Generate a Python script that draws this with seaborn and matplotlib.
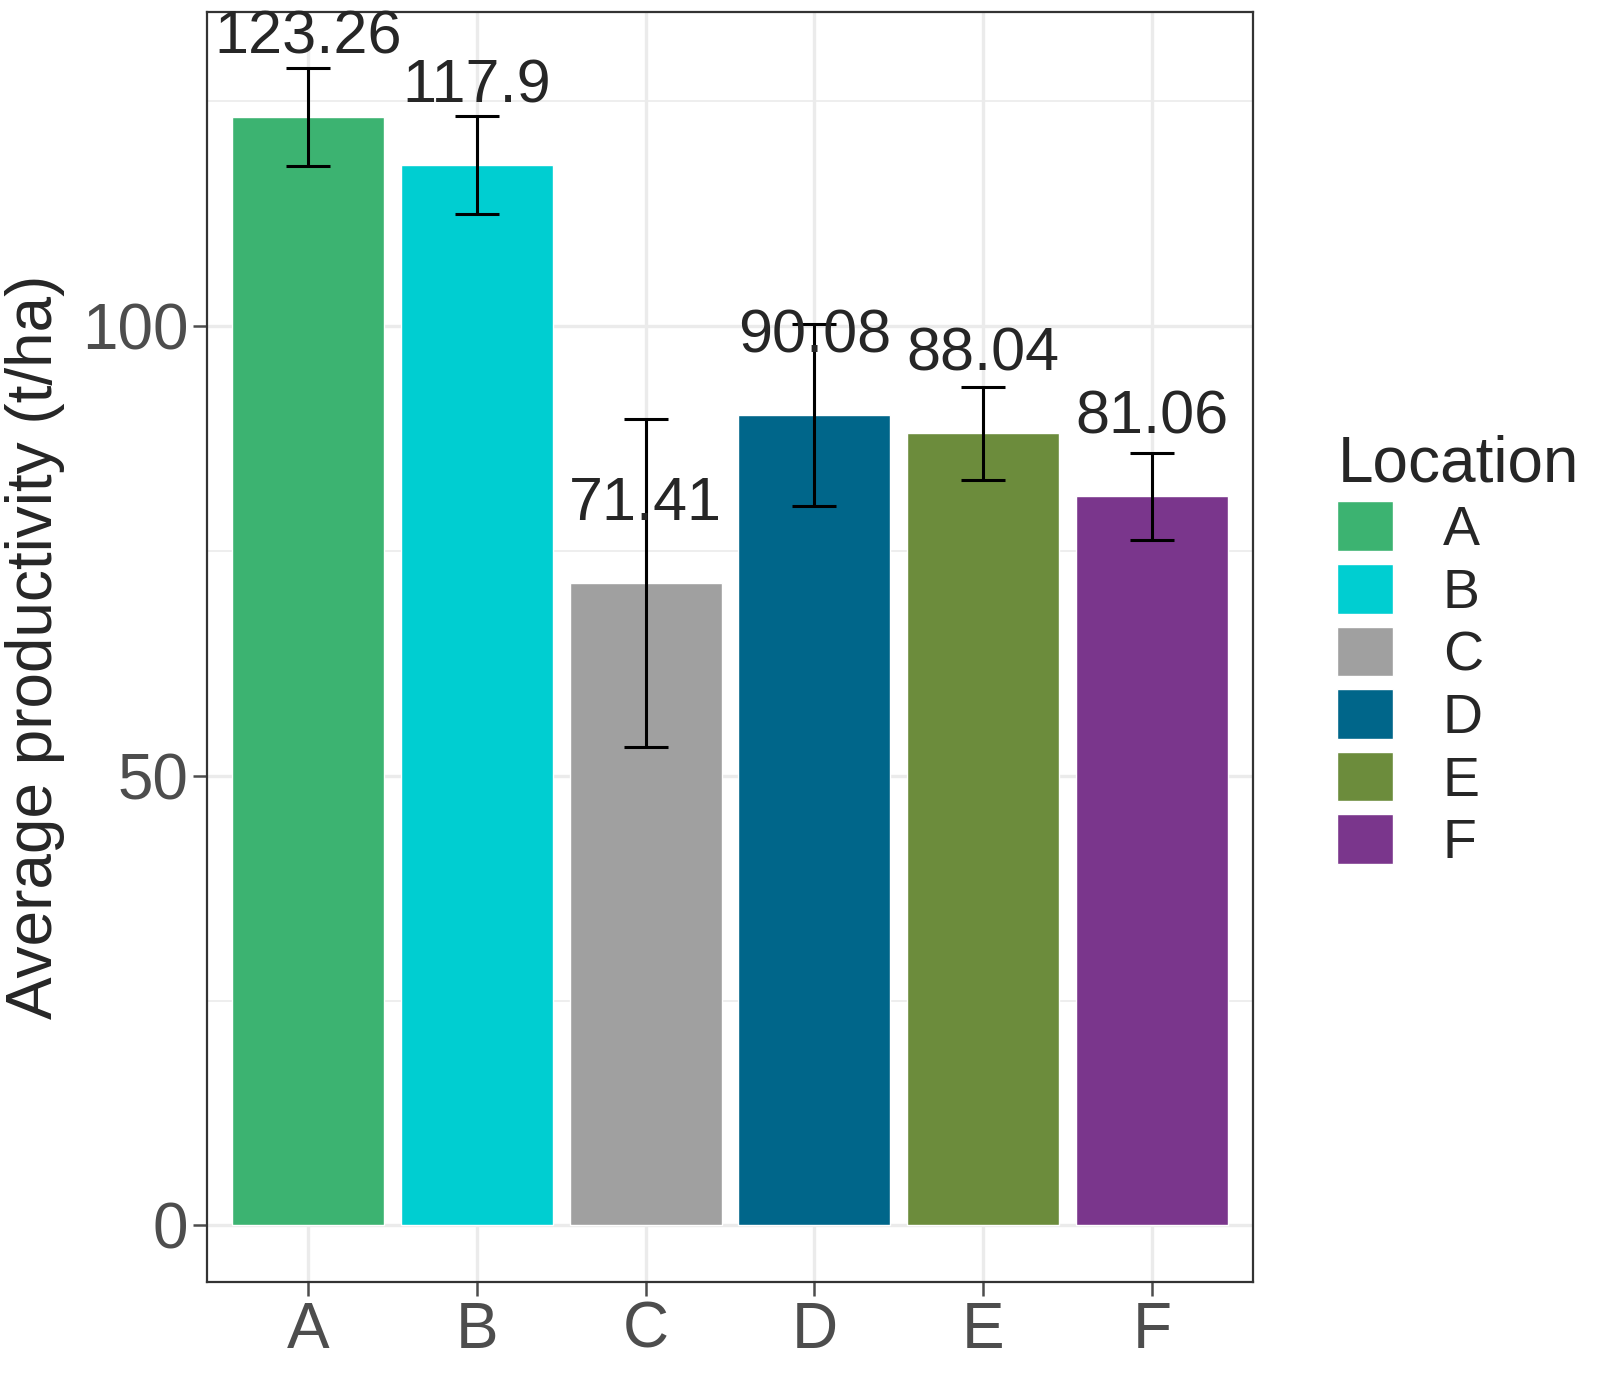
import numpy as np
import pandas as pd
import seaborn as sns
import matplotlib.pyplot as plt
from matplotlib.patches import Patch

locations = ['A', 'B', 'C', 'D', 'E', 'F']
means = [123.26, 117.9, 71.41, 90.08, 88.04, 81.06]
errors = [5.45, 5.45, 18.2, 10.1, 5.2, 4.85]
colors = ['#3CB371', '#00CED1', '#A0A0A0', '#00668A', '#6C8C3C', '#7A368C']

sns.set_style('white')
plt.rcParams['font.family'] = ['Liberation Sans', 'DejaVu Sans']

df = pd.DataFrame({'Location': locations, 'mean': means, 'err': errors})

fig = plt.figure(figsize=(16.07, 13.89), dpi=100)
ax = fig.add_axes([0.1288, 0.077, 0.6509, 0.9144])

ax.set_axisbelow(True)
ax.set_yticks([25, 75, 125], minor=True)
ax.grid(which='major', color='#EBEBEB', linewidth=2.4)
ax.grid(which='minor', axis='y', color='#EBEBEB', linewidth=1.2)

sns.barplot(data=df, x='Location', y='mean', hue='Location', palette=colors,
            width=0.9, legend=False, ax=ax, saturation=1)
ax.grid(which='major', color='#EBEBEB', linewidth=2.4)
x = np.arange(len(locations))
ax.errorbar(x, means, yerr=errors, fmt='none', ecolor='black', elinewidth=2.2,
            capsize=16, capthick=2.2)
for xi, m in zip(x, means):
    ax.text(xi, m + 8.7, f'{m:g}', ha='center', va='center', fontsize=44)

ax.set_xlim(-0.6, 5.6)
ax.set_ylim(-6.3, 134.9)
ax.set_yticks([0, 50, 100])
ax.set_xlabel('')
ax.set_ylabel('Average productivity (t/ha)', fontsize=46, labelpad=12)
ax.tick_params(axis='both', labelsize=46, colors='#4D4D4D', length=10, width=1.8,
               direction='out', bottom=True, left=True)
for lab in ax.get_xticklabels() + ax.get_yticklabels():
    lab.set_color('#4D4D4D')
for s in ax.spines.values():
    s.set_color('#333333')
    s.set_linewidth(1.6)

handles = [Patch(facecolor=c, edgecolor='white', label=l) for l, c in zip(locations, colors)]
leg = fig.legend(handles=handles, title='Location', loc='upper left',
                 bbox_to_anchor=(0.808, 0.715), frameon=False, fontsize=40,
                 title_fontsize=46, handlelength=1.0, handleheight=1.0,
                 labelspacing=0.12, handletextpad=0.9, borderpad=0.2)
leg._legend_box.align = 'left'

fig.savefig('out.png', dpi=100)
